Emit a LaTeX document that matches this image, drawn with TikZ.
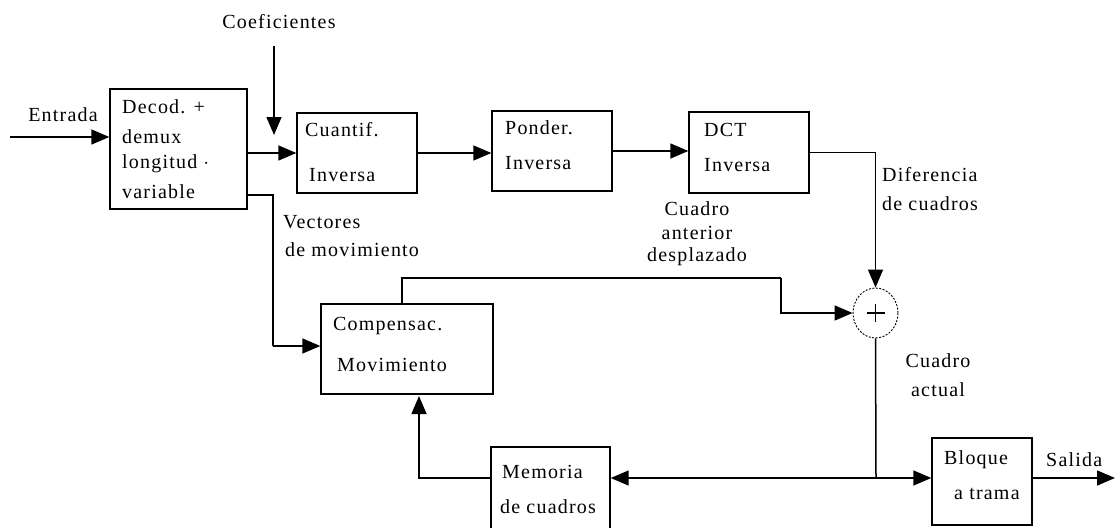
\documentclass[tikz,border=0pt]{standalone}
\usepackage{fontspec}
\setmainfont{Liberation Serif}[LetterSpace=6]
\usetikzlibrary{arrows.meta,shapes.geometric,calc}
\begin{document}
\begin{tikzpicture}[x=1pt,y=-1pt,
  box/.style={draw,line width=1.4pt,rectangle,inner sep=0pt},
  txt/.style={anchor=west,inner sep=0pt,font=\fontsize{20}{22}\selectfont},
  ctxt/.style={anchor=center,inner sep=0pt,font=\fontsize{20}{22}\selectfont},
  conn/.style={line width=1.5pt},
  arr/.style={line width=1.5pt,-{Triangle[length=18pt,width=15pt]}}]
\useasboundingbox (0,0) rectangle (1115,527);
% boxes
\node[box,minimum width=137pt,minimum height=120pt] (dec) at (178.5,149) {};
\node[box,minimum width=120pt,minimum height=80pt] (cua) at (357,153) {};
\node[box,minimum width=120pt,minimum height=80pt] (pon) at (552,151) {};
\node[box,minimum width=120pt,minimum height=81pt] (dct) at (749,152.5) {};
\node[box,minimum width=172pt,minimum height=90pt] (comp) at (407,349) {};
\node[box,minimum width=119pt,minimum height=90pt] (mem) at (550.5,492) {};
\node[box,minimum width=100pt,minimum height=87pt] (blo) at (982,481.5) {};
\node[draw,ellipse,line width=0.9pt,dash pattern=on 2pt off 1.5pt,minimum width=45pt,minimum height=50pt,inner sep=0pt] (sum) at (875.5,313) {};
\draw[line width=1.1pt] ($(sum.center)+(-9,0)$) -- ($(sum.center)+(9,0)$)
  ($(sum.center)+(0,-9)$) -- ($(sum.center)+(0,9)$);
% texts in boxes
\node[txt] (t1) at (122,107) {Decod. +};
\node[txt] (t2) at (122,137) {demux};
\node[txt] (t3) at (122,164) {longitud $\cdot$};
\node[txt] (t4) at (122,192) {variable};
\node[txt] (t5) at (305,130) {Cuantif.};
\node[txt] (t6) at (309,175) {Inversa};
\node[txt] (t7) at (505,128) {Ponder.};
\node[txt] (t8) at (505,163) {Inversa};
\node[txt] (t9) at (704,130) {DCT};
\node[txt] (t10) at (704,165) {Inversa};
\node[txt] (t11) at (333,326) {Compensac.};
\node[txt] (t12) at (337,365) {Movimiento};
\node[txt] (t13) at (502,472) {Memoria};
\node[txt] (t14) at (500,507) {de cuadros};
\node[txt] (t15) at (944,460) {Bloque};
\node[txt] (t16) at (954,494) {a trama};
% labels
\node[ctxt] (lent) at (63,115) {Entrada};
\node[ctxt] (lcoef) at (279,22) {Coeficientes};
\node[txt] (lvec1) at (283,222) {Vectores};
\node[txt] (lvec2) at (285,250) {de movimiento};
\node[ctxt] (lca1) at (697,209) {Cuadro};
\node[ctxt] (lca2) at (697,233) {anterior};
\node[ctxt] (lca3) at (697,257) {desplazado};
\node[txt] (ldif1) at (882,175) {Diferencia};
\node[txt] (ldif2) at (882,204) {de cuadros};
\node[ctxt] (lact1) at (938,361) {Cuadro};
\node[ctxt] (lact2) at (938,390) {actual};
\node[txt] (lsal) at (1046,460) {Salida};
% coordinates
\coordinate (ein) at (10,137);
\coordinate (cf1) at (274,46);
\coordinate (cf2) at (274,135);
\coordinate (dv) at (247,195);
\coordinate (vx) at (273,346);
\coordinate (ct) at (402,304);
\coordinate (cj) at (781,278);
\coordinate (jn) at (876,478);
\coordinate (out) at (1115,478);
\coordinate (mx) at (419,396);
% connectors
\draw[arr] (ein) -- (ein -| dec.west);
\draw[arr] (cf1) -- (cf2);
\draw[arr] (dec.east |- cua.west) -- (cua.west);
\draw[arr] (cua.east) -- (cua.east -| pon.west);
\draw[arr] (pon.east) -- (pon.east -| dct.west);
\draw[arr] (dct.east) -| (sum.north);
\draw[conn] (dv) -| (vx);
\draw[arr] (vx) -- (vx -| comp.west);
\draw[conn] (ct) |- (cj);
\draw[arr] (cj) |- (sum.west);
\draw[conn] (sum.south) -- (jn);
\draw[arr] (jn) -- (jn -| blo.west);
\draw[arr] (jn) -- (jn -| mem.east);
\draw[arr] (blo.east |- jn) -- (out);
\draw[arr] (mem.west |- jn) -| (mx);
\end{tikzpicture}
\end{document}
